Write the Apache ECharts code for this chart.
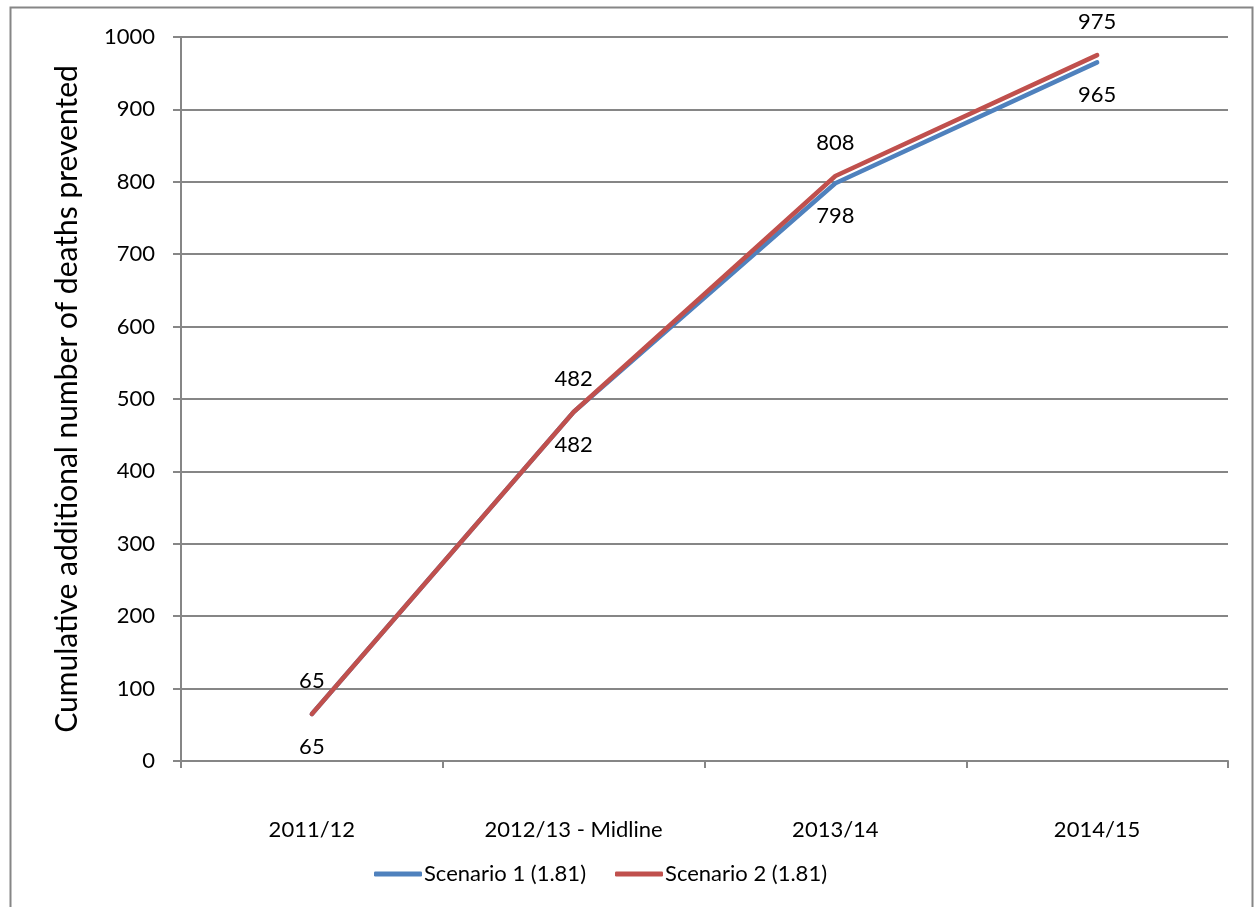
<!DOCTYPE html>
<html>
<head>
<meta charset="utf-8">
<script src="https://cdn.jsdelivr.net/npm/echarts@6/dist/echarts.min.js"></script>
<style>
  html, body { margin: 0; padding: 0; background: #ffffff; }
  #chart { width: 1258px; height: 907px; }
</style>
</head>
<body>
<div id="chart"></div>
<script>
// Financial years on the horizontal axis
const categories = ['2011/12', '2012/13 - Midline', '2013/14', '2014/15'];
// Cumulative additional deaths prevented, per scenario
const scenario1 = [65, 482, 798, 965];
const scenario2 = [65, 482, 808, 975];
const seriesNames = ['Scenario 1 (1.81)', 'Scenario 2 (1.81)'];
const yTitle = 'Cumulative additional number of deaths prevented';

const FONT = 'Lato, "Open Sans", sans-serif';
const GRID_GREY = '#868686';
const BLUE = '#4F81BD';
const RED = '#C0504D';

const chart = echarts.init(document.getElementById('chart'), null, { renderer: 'canvas' });

function lineSeries(name, data, color, labelPos) {
  return {
    name: name,
    type: 'line',
    data: data,
    symbol: 'circle',
    symbolSize: 0.1,
    showSymbol: true,
    itemStyle: { color: color },
    lineStyle: { color: color, width: 4.5, cap: 'round', join: 'round' },
    label: {
      show: true,
      position: labelPos,
      distance: 22,
      color: '#000000',
      fontFamily: FONT,
      fontSize: 22
    },
    emphasis: { disabled: true },
    animation: false
  };
}

chart.setOption({
  backgroundColor: '#ffffff',
  animation: false,
  graphic: [{
    type: 'rect',
    shape: { x: 10.5, y: 7.5, width: 1242, height: 910 },
    style: { fill: 'none', stroke: GRID_GREY, lineWidth: 2 },
    silent: true,
    z: -1
  }],
  grid: { left: 181, right: 30, top: 37, bottom: 146, containLabel: false },
  legend: {
    data: seriesNames.map(n => ({ name: n, icon: 'roundRect' })),
    left: 369,
    top: 858,
    itemWidth: 48,
    itemHeight: 5,
    itemGap: 29,
    textStyle: { fontFamily: FONT, fontSize: 22, color: '#000000', padding: [0, 0, 0, -3] },
    selectedMode: false
  },
  xAxis: {
    type: 'category',
    data: categories,
    boundaryGap: true,
    axisLine: { show: true, lineStyle: { color: GRID_GREY, width: 2 } },
    axisTick: { show: true, alignWithLabel: false, length: 7, lineStyle: { color: GRID_GREY, width: 2 } },
    axisLabel: { margin: 58, color: '#000000', fontFamily: FONT, fontSize: 22 },
    splitLine: { show: false }
  },
  yAxis: {
    type: 'value',
    min: 0,
    max: 1000,
    interval: 100,
    name: yTitle,
    nameLocation: 'middle',
    nameGap: 99,
    nameRotate: 90,
    nameTextStyle: { fontFamily: FONT, fontSize: 30, color: '#000000' },
    axisLine: { show: true, lineStyle: { color: GRID_GREY, width: 2 } },
    axisTick: { show: true, length: 8, lineStyle: { color: GRID_GREY, width: 2 } },
    axisLabel: {
      margin: 26,
      color: '#000000',
      fontFamily: FONT,
      fontSize: 22,
      formatter: v => String(v)
    },
    splitLine: { show: true, lineStyle: { color: GRID_GREY, width: 2 } }
  },
  series: [
    lineSeries(seriesNames[0], scenario1, BLUE, 'bottom'),
    lineSeries(seriesNames[1], scenario2, RED, 'top')
  ]
});
</script>
</body>
</html>
